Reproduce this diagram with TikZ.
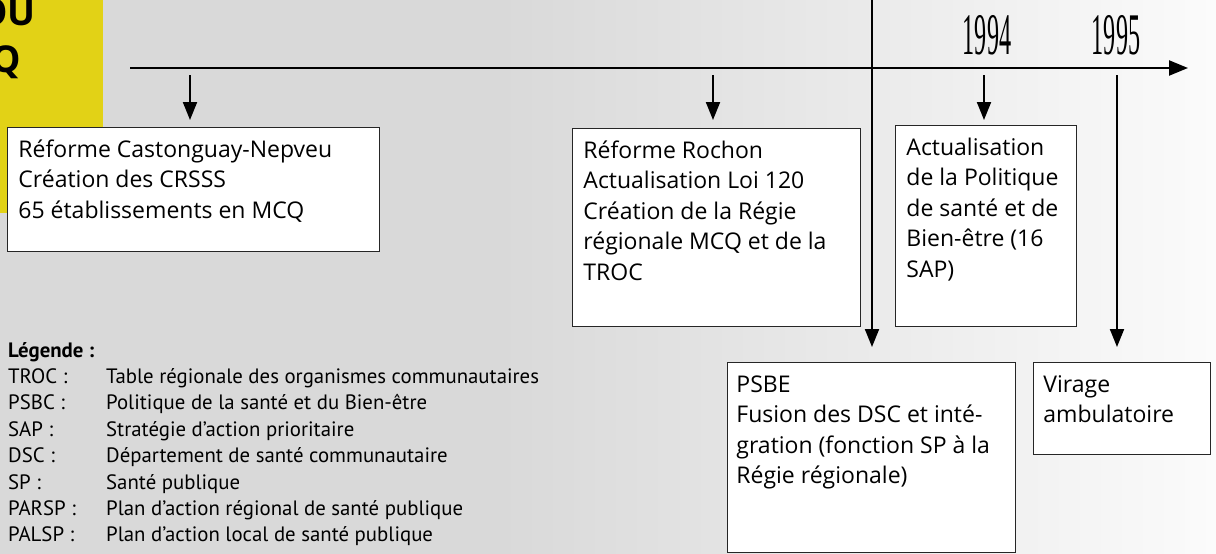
\documentclass[tikz,border=0pt]{standalone}
\usepackage{graphicx}
\usepackage{fontspec}
\setmainfont{Open Sans}
\newfontfamily\legfont{PT Sans}
\newfontfamily\yearfont{Liberation Serif}
\usetikzlibrary{arrows.meta}
\definecolor{bggray}{HTML}{D9D9D9}
\definecolor{bgright}{HTML}{FBFBFB}
\definecolor{yel}{HTML}{E2D216}
\definecolor{boxline}{HTML}{262626}
\newcommand\evtext[3]{\parbox[c][#2][t]{#1}{\raggedright\rule{0pt}{30pt}#3}}
\begin{document}
\begin{tikzpicture}[x=1pt,y=-1pt,
  evbox/.style={draw=boxline, line width=0.9pt, fill=white, anchor=north west,
    inner xsep=11pt, inner ysep=0pt, font=\fontsize{23}{30.5}\selectfont},
  arr/.style={line width=2pt, -{Triangle[length=18pt,width=14pt]}},
  axisline/.style={line width=2.2pt, -{Triangle[length=19pt,width=15pt]}},
  yearlbl/.style={font=\yearfont\fontsize{59}{59}\selectfont, inner sep=0pt},
  legk/.style={font=\legfont\fontsize{20.8}{26}\selectfont, anchor=base west, inner sep=0pt},
  ttl/.style={font=\bfseries\fontsize{37}{37}\selectfont, anchor=base east, inner sep=0pt}
]
\useasboundingbox (0,0) rectangle (1216,554);
% background
\fill[bggray] (0,0) rectangle (500.5,554);
\shade[left color=bggray, right color=bgright] (500,0) rectangle (1216,554);
% yellow title block
\fill[yel] (0,0) rectangle (103,213);
\node[ttl] (ttla) at (36,25) {OU};
\node[ttl] (ttlb) at (21,72) {Q};

% timeline
\coordinate (axs) at (130,68);
\coordinate (axe) at (1188,68);
\draw[axisline] (axs) -- (axe);

% year labels
\node[yearlbl] (y94) at (987,35) {\scalebox{0.41}[1]{1994}};
\node[yearlbl] (y95) at (1116,35) {\scalebox{0.41}[1]{1995}};

% event boxes
\node[evbox] (b1) at (7,127) {\evtext{350pt}{124pt}{Réforme Castonguay-Nepveu\\Création des CRSSS\\65 établissements en MCQ}};
\node[evbox] (b2) at (572,128) {\evtext{266pt}{198pt}{Réforme Rochon\\Actualisation Loi 120\\Création de la Régie\\régionale MCQ et de la\\TROC}};
\node[evbox] (b3) at (895,125) {\evtext{159pt}{201pt}{Actualisation\\de la Politique\\de santé et de\\Bien-être (16\\SAP)}};
\node[evbox, inner xsep=9pt] (b4) at (727,362) {\evtext{270pt}{190pt}{PSBE\\Fusion des DSC et inté-\\gration (fonction SP à la\\Régie régionale)}};
\node[evbox, inner xsep=10pt] (b5) at (1033,362) {\evtext{157pt}{92pt}{Virage\\ambulatoire}};

% arrows
\coordinate (t1) at (190,75);
\coordinate (t2) at (713,75);
\coordinate (t3) at (984,75);
\coordinate (t4) at (872,0);
\coordinate (t5) at (1117,75);
\draw[arr, shorten >=7pt] (t1) -- (t1 |- b1.north);
\draw[arr, shorten >=8pt] (t2) -- (t2 |- b2.north);
\draw[arr, shorten >=5pt] (t3) -- (t3 |- b3.north);
\draw[arr, shorten >=15pt] (t4) -- (t4 |- b4.north);
\draw[arr, shorten >=15pt] (t5) -- (t5 |- b5.north);

% legend
\node[legk, font=\legfont\bfseries\fontsize{20.8}{26}\selectfont] (lg) at (8,357) {Légende :};
\node[legk] (k1) at (8,383.4) {TROC :};
\node[legk] (d1) at (106,383.4) {Table régionale des organismes communautaires};
\node[legk] (k2) at (8,409.8) {PSBC :};
\node[legk] (d2) at (106,409.8) {Politique de la santé et du Bien-être};
\node[legk] (k3) at (8,436.2) {SAP :};
\node[legk] (d3) at (106,436.2) {Stratégie d’action prioritaire};
\node[legk] (k4) at (8,462.6) {DSC :};
\node[legk] (d4) at (106,462.6) {Département de santé communautaire};
\node[legk] (k5) at (8,489) {SP :};
\node[legk] (d5) at (106,489) {Santé publique};
\node[legk] (k6) at (8,515.4) {PARSP :};
\node[legk] (d6) at (106,515.4) {Plan d’action régional de santé publique};
\node[legk] (k7) at (8,541.8) {PALSP :};
\node[legk] (d7) at (106,541.8) {Plan d’action local de santé publique};
\end{tikzpicture}
\end{document}
